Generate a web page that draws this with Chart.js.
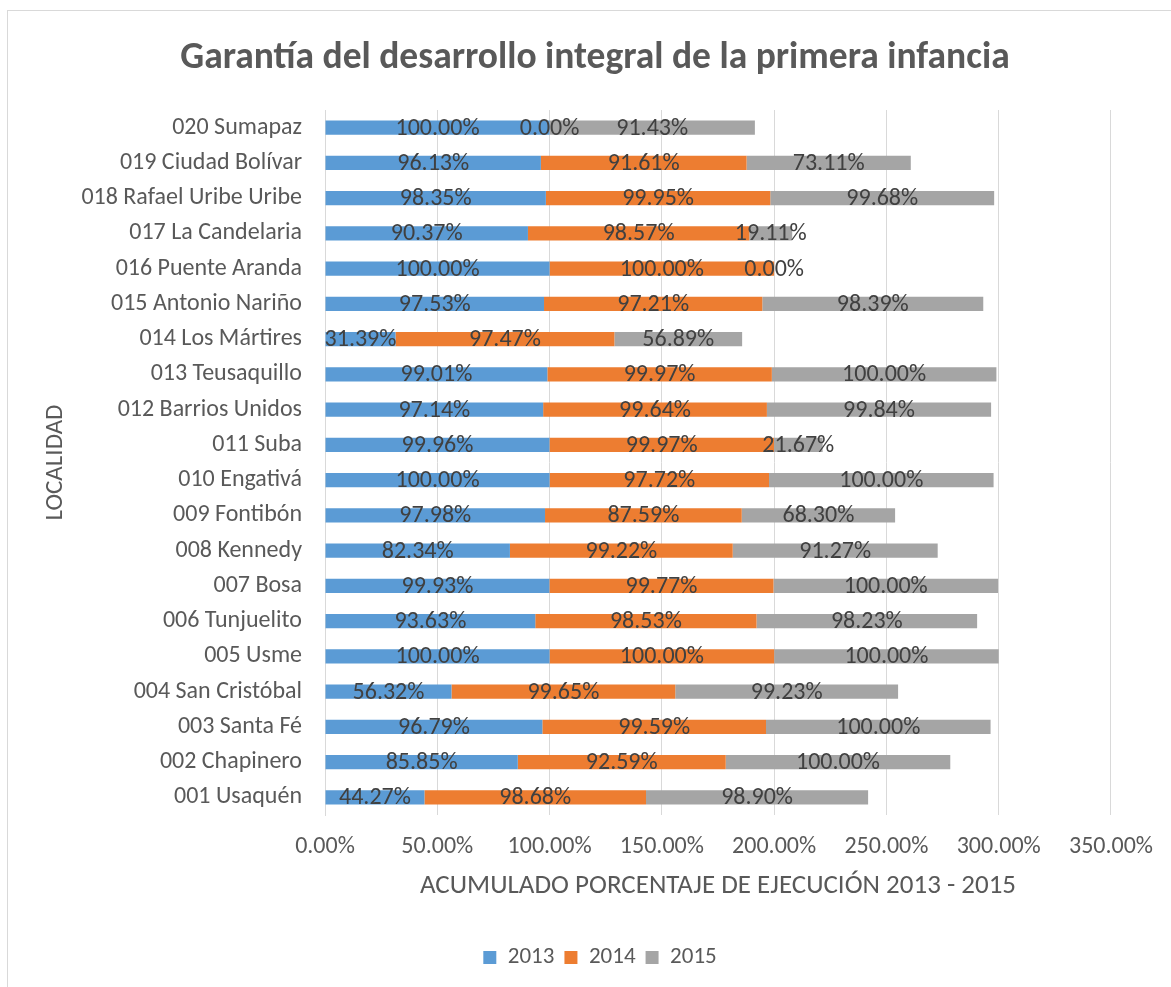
<!DOCTYPE html>
<html>
<head>
<meta charset="utf-8">
<script src="https://cdn.jsdelivr.net/npm/chart.js@4.4.1/dist/chart.umd.min.js"></script>
<style>
  html, body { margin: 0; padding: 0; background: #fff; }
  #frame { position: absolute; left: 7px; top: 10px; width: 1200px; height: 1000px; border-left: 1px solid #d9d9d9; border-top: 1px solid #d9d9d9; }
  #wrap { position: absolute; left: 0; top: 0; width: 1171px; height: 987px; }
</style>
</head>
<body>
<div id="frame"></div>
<div id="wrap"><canvas id="ejecucion" width="1171" height="987"></canvas></div>
<script>
// Localidades (de 001 a 020) y porcentaje de ejecución por año
const localidades = [
    '001 Usaquén', '002 Chapinero', '003 Santa Fé', '004 San Cristóbal', '005 Usme',
    '006 Tunjuelito', '007 Bosa', '008 Kennedy', '009 Fontibón', '010 Engativá',
    '011 Suba', '012 Barrios Unidos', '013 Teusaquillo', '014 Los Mártires', '015 Antonio Nariño',
    '016 Puente Aranda', '017 La Candelaria', '018 Rafael Uribe Uribe', '019 Ciudad Bolívar', '020 Sumapaz'
];
const ejec2013 = [44.27, 85.85, 96.79, 56.32, 100.00, 93.63, 99.93, 82.34, 97.98, 100.00,
                  99.96, 97.14, 99.01, 31.39, 97.53, 100.00, 90.37, 98.35, 96.13, 100.00];
const ejec2014 = [98.68, 92.59, 99.59, 99.65, 100.00, 98.53, 99.77, 99.22, 87.59, 97.72,
                  99.97, 99.64, 99.97, 97.47, 97.21, 100.00, 98.57, 99.95, 91.61, 0.00];
const ejec2015 = [98.90, 100.00, 100.00, 99.23, 100.00, 98.23, 100.00, 91.27, 68.30, 100.00,
                  21.67, 99.84, 100.00, 56.89, 98.39, 0.00, 19.11, 99.68, 73.11, 91.43];
const anios = ['2013', '2014', '2015'];
const ticksX = [0, 50, 100, 150, 200, 250, 300, 350];

const FUENTE = "Carlito, Lato, 'Open Sans', sans-serif";
const GRIS_TEXTO = '#595959';

// etiquetas de valor centradas en cada segmento
const etiquetasValor = {
    id: 'etiquetasValor',
    afterLayout(chart) {
        // título y leyenda centrados sobre todo el marco, no sobre el área con padding
        chart.titleBlock.left += 25;
        chart.titleBlock.right += 25;
        chart.legend.left += 30;
        chart.legend.right += 30;
    },
    afterDatasetsDraw(chart) {
        const ctx = chart.ctx;
        ctx.save();
        ctx.font = '24px ' + FUENTE;
        ctx.fillStyle = '#404040';
        ctx.textAlign = 'center';
        ctx.textBaseline = 'middle';
        chart.data.datasets.forEach((ds, i) => {
            chart.getDatasetMeta(i).data.forEach((bar, j) => {
                const x = (bar.x + bar.base) / 2;
                ctx.fillText(ds.data[j].toFixed(2) + '%', x, bar.y + 1);
            });
        });
        ctx.restore();
    }
};

const ctx = document.getElementById('ejecucion').getContext('2d');
new Chart(ctx, {
    type: 'bar',
    data: {
        labels: localidades,
        datasets: [
            { label: anios[0], data: ejec2013, backgroundColor: '#5B9BD5' },
            { label: anios[1], data: ejec2014, backgroundColor: '#ED7D31' },
            { label: anios[2], data: ejec2015, backgroundColor: '#A5A5A5' }
        ]
    },
    options: {
        indexAxis: 'y',
        responsive: false,
        animation: false,
        devicePixelRatio: 1,
        datasets: { bar: { categoryPercentage: 0.4, barPercentage: 1 } },
        layout: { padding: { left: 20, right: 51, top: 0, bottom: 8 } },
        scales: {
            x: {
                stacked: true,
                min: 0,
                max: 350,
                afterBuildTicks(scale) {
                    scale.ticks = ticksX.map(v => ({ value: v }));
                },
                afterFit(scale) { scale.height = 121; },
                grid: { color: '#d9d9d9', drawTicks: false },
                border: { display: false },
                ticks: {
                    padding: 18,
                    color: GRIS_TEXTO,
                    font: { family: FUENTE, size: 24 },
                    callback: v => v.toFixed(2) + '%'
                },
                title: {
                    display: true,
                    text: 'ACUMULADO PORCENTAJE DE EJECUCIÓN 2013 - 2015',
                    color: GRIS_TEXTO,
                    font: { family: FUENTE, size: 27 },
                    padding: { top: 0, bottom: 34 }
                }
            },
            y: {
                stacked: true,
                reverse: true,
                afterFit(scale) { scale.width = 305; },
                grid: { display: false, drawTicks: false },
                border: { display: true, color: '#d9d9d9', width: 1 },
                ticks: {
                    padding: 23,
                    color: GRIS_TEXTO,
                    font: { family: FUENTE, size: 24 }
                },
                title: {
                    display: true,
                    text: 'LOCALIDAD',
                    color: GRIS_TEXTO,
                    font: { family: FUENTE, size: 25 },
                    padding: { top: 21, bottom: 0 }
                }
            }
        },
        plugins: {
            title: {
                display: true,
                text: 'Garantía del desarrollo integral de la primera infancia',
                color: GRIS_TEXTO,
                font: { family: FUENTE, size: 37.5, weight: 'bold' },
                padding: { top: 36, bottom: 29 }
            },
            legend: {
                position: 'bottom',
                labels: {
                    color: GRIS_TEXTO,
                    font: { family: FUENTE, size: 23 },
                    boxWidth: 13,
                    boxHeight: 13,
                    padding: 10
                }
            },
            tooltip: { enabled: false }
        }
    },
    plugins: [etiquetasValor]
});
</script>
</body>
</html>
